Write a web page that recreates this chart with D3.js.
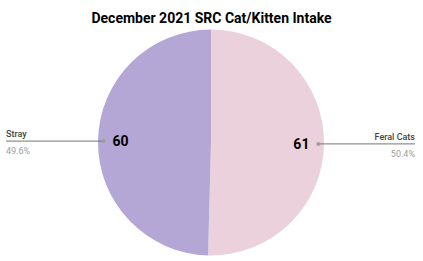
<!DOCTYPE html>
<html>
<head>
<meta charset="utf-8">
<script src="https://cdn.jsdelivr.net/npm/d3@7"></script>
<style>
  body { margin: 0; background: #fff; }
  text { font-family: Roboto, sans-serif; }
</style>
</head>
<body>
<div id="chart"></div>
<script>
const title = 'December 2021 SRC Cat/Kitten Intake';
const categories = ['Feral Cats', 'Stray'];
const values = [61, 60];
const colours = ['#ead1dc', '#b4a7d6'];

const width = 423, height = 261;
const cx = 211, cy = 142.5, radius = 113;

const svg = d3.select('#chart').append('svg')
  .attr('width', width)
  .attr('height', height);

svg.append('text')
  .attr('x', width / 2)
  .attr('y', 23)
  .attr('text-anchor', 'middle')
  .style('font-size', '14px')
  .style('font-weight', 'bold')
  .attr('fill', '#000')
  .text(title);

const data = categories.map((c, i) => ({ name: c, value: values[i], colour: colours[i] }));
const total = d3.sum(values);

const pie = d3.pie().sort(null).value(d => d.value);
const arc = d3.arc().innerRadius(0).outerRadius(radius);
const arcs = pie(data);

const g = svg.append('g').attr('transform', `translate(${cx},${cy})`);

g.selectAll('path.slice')
  .data(arcs)
  .enter().append('path')
    .attr('class', 'slice')
    .attr('d', arc)
    .attr('fill', d => d.data.colour);

// value labels inside slices
const inner = d3.arc().innerRadius(radius * 0.8).outerRadius(radius * 0.8);
g.selectAll('text.val')
  .data(arcs)
  .enter().append('text')
    .attr('class', 'val')
    .attr('transform', d => {
      const [x, y] = inner.centroid(d);
      return `translate(${x},${y})`;
    })
    .attr('text-anchor', 'middle')
    .attr('dy', '0.35em')
    .style('font-size', '14px')
    .style('font-weight', 'bold')
    .attr('fill', '#000')
    .text(d => d.data.value);

// callout labels outside
const edge = d3.arc().innerRadius(radius * 0.95).outerRadius(radius * 0.95);
arcs.forEach(d => {
  const [px, py] = edge.centroid(d);
  const right = px > 0;
  const x0 = cx + px, y0 = cy + py;
  const x1 = right ? 415 : 6;
  const pct = (d.data.value / total * 100).toFixed(1) + '%';

  svg.append('line')
    .attr('x1', x0).attr('y1', y0)
    .attr('x2', x1).attr('y2', y0)
    .attr('stroke', '#757575')
    .attr('stroke-width', 1);
  svg.append('circle')
    .attr('cx', x0).attr('cy', y0).attr('r', 2)
    .attr('fill', '#9e9e9e');
  svg.append('text')
    .attr('x', x1).attr('y', y0 - 4)
    .attr('text-anchor', right ? 'end' : 'start')
    .style('font-size', '9px')
    .style('font-weight', 500)
    .attr('fill', '#424242')
    .text(d.data.name);
  svg.append('text')
    .attr('x', x1).attr('y', y0 + 13)
    .attr('text-anchor', right ? 'end' : 'start')
    .style('font-size', '9px')
    .attr('fill', '#9e9e9e')
    .text(pct);
});
</script>
</body>
</html>
